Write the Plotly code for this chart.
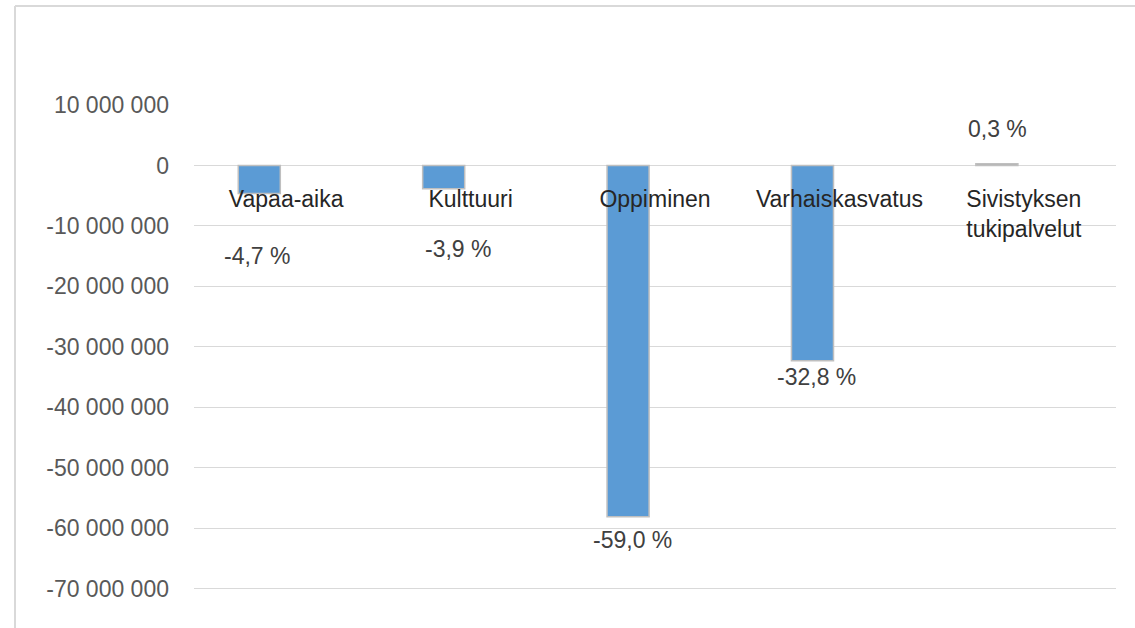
import plotly.graph_objects as go

# ---- data ----
categories = ["Vapaa-aika", "Kulttuuri", "Oppiminen", "Varhaiskasvatus", "Sivistyksen<br>tukipalvelut"]
values = [-4630000, -3840000, -58100000, -32300000, 300000]
pct_labels = ["-4,7 %", "-3,9 %", "-59,0 %", "-32,8 %", "0,3 %"]
y_ticks = [10000000, 0, -10000000, -20000000, -30000000, -40000000, -50000000, -60000000, -70000000]

# ---- styles ----
W, H = 1135, 628
ML, MR, MT, MB = 194, 19, 105, 38
FONT = "Liberation Sans, Arial, sans-serif"
FS = 23
BLUE = "#5B9BD5"
GREY = "#A5A5A5"
bar_colors = [BLUE if v < 0 else GREY for v in values]
BAR_OFFSET = -0.26
BAR_WIDTH = 0.228
# manual label nudges (pixels) as in the original chart
label_yshift = [-63, -60, -23, -16, 35]
label_xshift = [-2, 14, 4, 4, 1]

def fmt(v):
    return f"{v:,}".replace(",", " ")

fig = go.Figure()
fig.add_trace(go.Bar(
    x=categories, y=values,
    offset=BAR_OFFSET, width=BAR_WIDTH,
    marker=dict(color=bar_colors, line=dict(color="#BFBFBF", width=1.5)),
    hoverinfo="skip",
))

annotations = []
for i, (v, t) in enumerate(zip(values, pct_labels)):
    annotations.append(dict(
        x=i + BAR_OFFSET + BAR_WIDTH / 2, y=v, xref="x", yref="y",
        text=t, showarrow=False, xanchor="center", yanchor="middle",
        xshift=label_xshift[i], yshift=label_yshift[i],
        font=dict(family=FONT, size=FS, color="#404040"),
    ))

pw = W - ML - MR
ph = H - MT - MB
def px_x(px):
    return (px - ML) / pw
def px_y(py):
    return (H - MB - py) / ph

shapes = [
    dict(type="line", xref="paper", yref="paper", x0=px_x(15), x1=px_x(15),
         y0=px_y(6), y1=px_y(H + 20), line=dict(color="#D9D9D9", width=2)),
    dict(type="line", xref="paper", yref="paper", x0=px_x(15), x1=px_x(W + 20),
         y0=px_y(6), y1=px_y(6), line=dict(color="#D9D9D9", width=2)),
]

y_min, y_max = -70200000, 10000000
fig.update_layout(
    width=W, height=H,
    margin=dict(l=ML, r=MR, t=MT, b=MB, pad=0),
    paper_bgcolor="white", plot_bgcolor="white",
    showlegend=False,
    annotations=annotations,
    shapes=shapes,
    font=dict(family=FONT),
    xaxis=dict(
        anchor="free", position=(0 - y_min) / (y_max - y_min),
        showline=False, ticks="", showgrid=False, zeroline=False,
        tickangle=0, ticklabelstandoff=18,
        tickfont=dict(family=FONT, size=FS, color="#262626"),
        fixedrange=True,
    ),
    yaxis=dict(
        range=[y_min, y_max],
        tickvals=y_ticks, ticktext=[fmt(v) for v in y_ticks],
        showgrid=True, gridcolor="#D9D9D9", gridwidth=1,
        zeroline=True, zerolinecolor="#D9D9D9", zerolinewidth=1,
        showline=False, ticks="",
        ticklabelstandoff=24,
        tickfont=dict(family=FONT, size=FS, color="#595959"),
        fixedrange=True,
    ),
)

fig.write_html(
    "out.html",
    config={"displayModeBar": False, "staticPlot": True},
    post_script="document.body.style.margin='0';document.body.style.overflow='hidden';",
)
